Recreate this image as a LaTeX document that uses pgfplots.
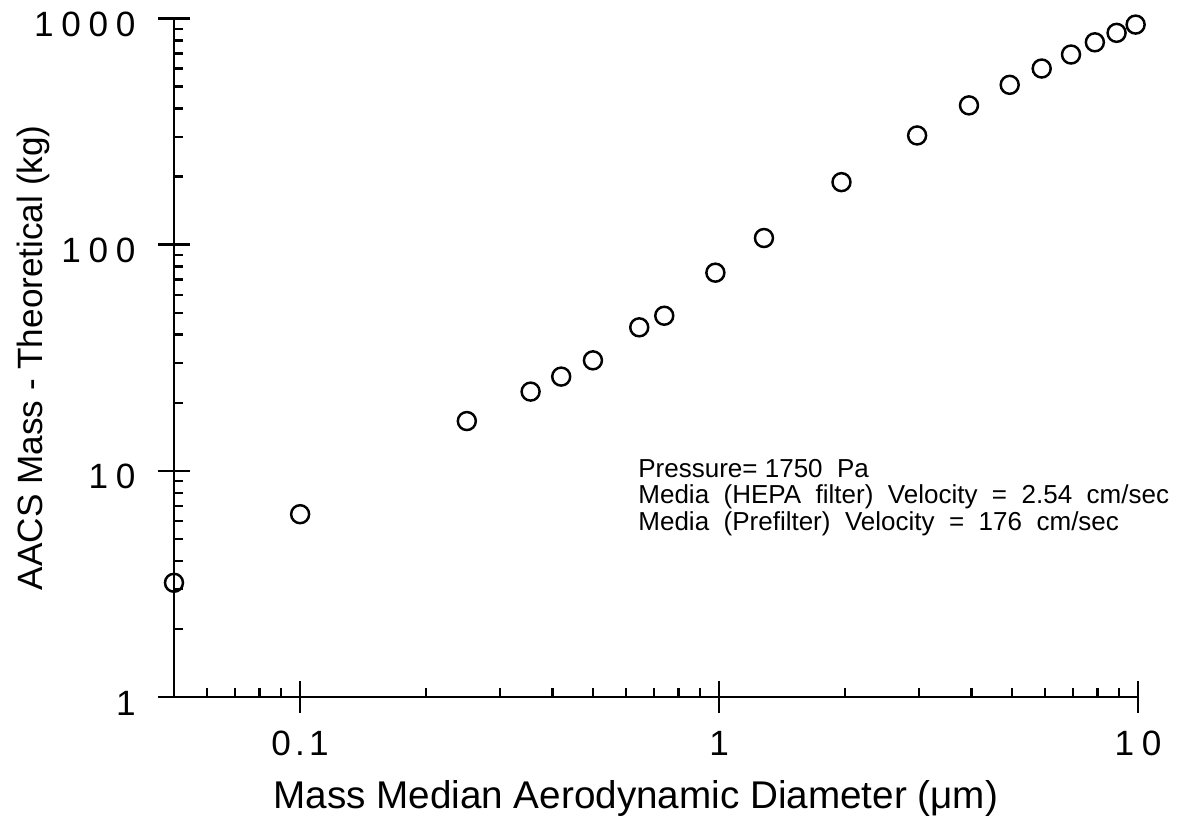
\documentclass[border=0pt]{standalone}
\usepackage{pgfplots}
\pgfplotsset{compat=1.18}
\usepackage{fontspec}
\setmainfont{Liberation Sans}
\newcommand{\g}{\kern2.2pt}
\begin{document}
\begin{tikzpicture}
\begin{axis}[
  at={(0,0)}, anchor=south west,
  scale only axis, width=9.64cm, height=6.785cm,
  xmode=log, ymode=log,
  xmin=0.05, xmax=10, ymin=1, ymax=1000,
  axis x line=bottom, axis y line=left,
  axis line style={-, line width=0.7pt},
  xtick={0.1,1,10}, xticklabels={0\kern1.2pt.\kern1.2pt1,1,1\g0},
  ytick={1,10,100,1000}, yticklabels={1,1\g0,1\g0\g0,1\g0\g0\g0},
  minor xtick={0.06,0.07,0.08,0.09,0.2,0.3,0.4,0.5,0.6,0.7,0.8,0.9,2,3,4,5,6,7,8,9},
  minor ytick={2,3,4,5,6,7,8,9,20,30,40,50,60,70,80,90,200,300,400,500,600,700,800,900},
  tick align=inside,
  major tick length=3.2mm, minor tick length=0.9mm,
  major x tick style={yshift=-1.6mm},
  major y tick style={xshift=-1.6mm},
  tick style={black, line width=0.7pt},
  xticklabel style={font=\fontsize{10}{10}\selectfont, yshift=-2.2mm},
  yticklabel style={font=\fontsize{10}{10}\selectfont, xshift=-2.6mm, yshift=-0.6mm},
  xlabel={Mass Median Aerodynamic Diameter (μm)},
  xlabel style={font=\fontsize{11}{12}\selectfont, at={(axis description cs:0.479,0)}, anchor=north, yshift=-7.1mm},
  ylabel={AACS Mass - Theoretical (kg)},
  ylabel style={font=\fontsize{10}{11}\selectfont, at={(axis description cs:0,0.5)}, anchor=south, yshift=11.2mm},
  clip=false,
]
\addplot[only marks, mark=o, mark size=0.9mm, mark options={line width=0.7pt}, black] coordinates {
(0.05,3.2) (0.1,6.43) (0.25,16.6) (0.355,22.4) (0.42,26.1) (0.5,30.8)
(0.645,43.1) (0.74,48.5) (0.98,75.2) (1.28,107) (1.96,189) (2.97,304)
(3.95,413) (4.94,509) (5.89,601) (6.92,693) (7.89,785) (8.89,864) (9.87,940)
};
\node[anchor=north west, inner sep=0pt, align=left, font=\fontsize{7.4}{7.6}\selectfont]
  at (rel axis cs:0.481,0.352)
  {Pressure=\ 1750\ \ Pa\\
   Media\ \ (HEPA\ \ filter)\ \ Velocity\ \ =\ \ 2.54\ \ cm/sec\\
   Media\ \ (Prefilter)\ \ Velocity\ \ =\ \ 176\ \ cm/sec};
\end{axis}
\pgfresetboundingbox
\path (-1.74cm,-1.27cm) rectangle (10.05cm,6.97cm);
\end{tikzpicture}
\end{document}
